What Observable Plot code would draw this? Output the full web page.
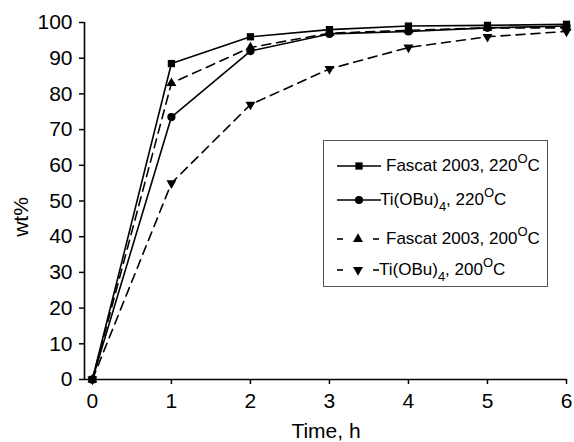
<!DOCTYPE html>
<html><head><meta charset="utf-8">
<script src="https://cdn.jsdelivr.net/npm/d3@7"></script>
<script src="https://cdn.jsdelivr.net/npm/@observablehq/plot@0.6"></script>
<style>
body{margin:0;background:#fff}
#wrap{position:relative;width:574px;height:442px;font-family:"Liberation Sans",Arial,sans-serif;color:#000}
#wrap svg text{font-family:"Liberation Sans",Arial,sans-serif}
#legend{position:absolute;left:323px;top:140px;width:225px;height:147px;border:1px solid #555;background:#fff;box-sizing:border-box;font-size:17px}
.sample{position:absolute;left:12px}
.ltext{position:absolute;white-space:nowrap;line-height:20px}
sup{font-size:13px;vertical-align:8px;line-height:0}
sub{font-size:13px;vertical-align:-6px;line-height:0}
.axlab{position:absolute;font-size:21px;white-space:nowrap;line-height:22px}
</style>
</head><body><div id="wrap"></div>
<script>
const times = [0, 1, 2, 3, 4, 5, 6];
const fascat220 = [0, 88.5, 96, 98, 99, 99.2, 99.5];
const ti220 = [0, 73.5, 92, 96.8, 97.5, 98.5, 99];
const fascat200 = [0, 83, 93, 97, 97.8, 98.5, 98.5];
const ti200 = [0, 55, 77, 87, 93, 96, 97.5];
const yTicks = [0, 10, 20, 30, 40, 50, 60, 70, 80, 90, 100];
const seriesNames = ["Fascat 2003, 220<sup>O</sup>C", "Ti(OBu)<sub>4</sub>, 220<sup>O</sup>C", "Fascat 2003, 200<sup>O</sup>C", "Ti(OBu)<sub>4</sub>, 200<sup>O</sup>C"];

const seriesDefs = [
  {values: fascat220, dash: null, symbol: "square", rotate: 0, r: 4.1},
  {values: ti220, dash: null, symbol: "circle", rotate: 0, r: 4.1},
  {values: fascat200, dash: "9,6", symbol: "triangle", rotate: 0, r: 3.7},
  {values: ti200, dash: "9,6", symbol: "triangle", rotate: 180, r: 3.7}
];

const marks = [
  Plot.ruleX([-0.1], {y1: 0, y2: 100, stroke: "#000", strokeWidth: 1.6}),
  Plot.ruleY([0], {x1: -0.1, x2: 6, stroke: "#000", strokeWidth: 1.6}),
  Plot.axisX({ticks: times, tickFormat: d3.format("d"), tickSize: 5, tickPadding: 9, fontSize: 21, label: null, strokeWidth: 1.5}),
  Plot.axisY({ticks: yTicks, tickFormat: d3.format("d"), tickSize: 5, tickPadding: 7, fontSize: 21, label: null, strokeWidth: 1.5})
];
for (const s of seriesDefs) {
  const rows = times.map((t, i) => ({t, v: s.values[i]}));
  marks.push(Plot.line(rows, {x: "t", y: "v", stroke: "#000", strokeWidth: 1.6, strokeDasharray: s.dash}));
  marks.push(Plot.dot(rows, {x: "t", y: "v", symbol: () => s.symbol, fill: "#000", stroke: "none", r: s.r, rotate: s.rotate}));
}

const chart = Plot.plot({
  width: 574, height: 442,
  marginLeft: 84, marginRight: 8, marginTop: 22, marginBottom: 63,
  style: {fontFamily: "Liberation Sans, Arial, sans-serif", fontSize: "21px", color: "#000", background: "#fff"},
  x: {domain: [-0.1, 6]},
  y: {domain: [0, 100]},
  marks
});
const wrap = document.getElementById("wrap");
wrap.appendChild(chart);

// axis titles
const xt = document.createElement("div");
xt.className = "axlab"; xt.textContent = "Time, h";
xt.style.left = "326px"; xt.style.top = "420px"; xt.style.transform = "translateX(-50%)";
wrap.appendChild(xt);
const yt = document.createElement("div");
yt.className = "axlab"; yt.textContent = "wt%";
yt.style.left = "21px"; yt.style.top = "217px"; yt.style.transform = "translate(-50%,-50%) rotate(-90deg)";
wrap.appendChild(yt);

// legend
const legend = document.createElement("div");
legend.id = "legend";
const rowY = [26, 60, 99, 130];
const textX = [62, 56, 62, 55];
seriesDefs.forEach((s, i) => {
  const svg = d3.create("svg").attr("class", "sample").attr("width", 46).attr("height", 20)
    .style("top", (rowY[i] - 10 - 1) + "px");
  if (s.dash) {
    svg.append("line").attr("x1", 1).attr("x2", 7).attr("y1", 10).attr("y2", 10).attr("stroke", "#000").attr("stroke-width", 1.6);
    svg.append("line").attr("x1", 37).attr("x2", 43).attr("y1", 10).attr("y2", 10).attr("stroke", "#000").attr("stroke-width", 1.6);
  } else {
    svg.append("line").attr("x1", 1).attr("x2", 45).attr("y1", 10).attr("y2", 10).attr("stroke", "#000").attr("stroke-width", 1.6);
  }
  const symType = {square: d3.symbolSquare, circle: d3.symbolCircle, triangle: d3.symbolTriangle}[s.symbol];
  svg.append("path").attr("d", d3.symbol(symType, Math.PI * s.r * s.r)())
    .attr("transform", `translate(${s.dash ? 22 : 23},10) rotate(${s.rotate})`).attr("fill", "#000");
  legend.appendChild(svg.node());
  const span = document.createElement("div");
  span.className = "ltext";
  span.innerHTML = seriesNames[i];
  span.style.left = textX[i] + "px";
  span.style.top = (rowY[i] - 10 - 1) + "px";
  legend.appendChild(span);
});
wrap.appendChild(legend);
</script>
</body></html>
